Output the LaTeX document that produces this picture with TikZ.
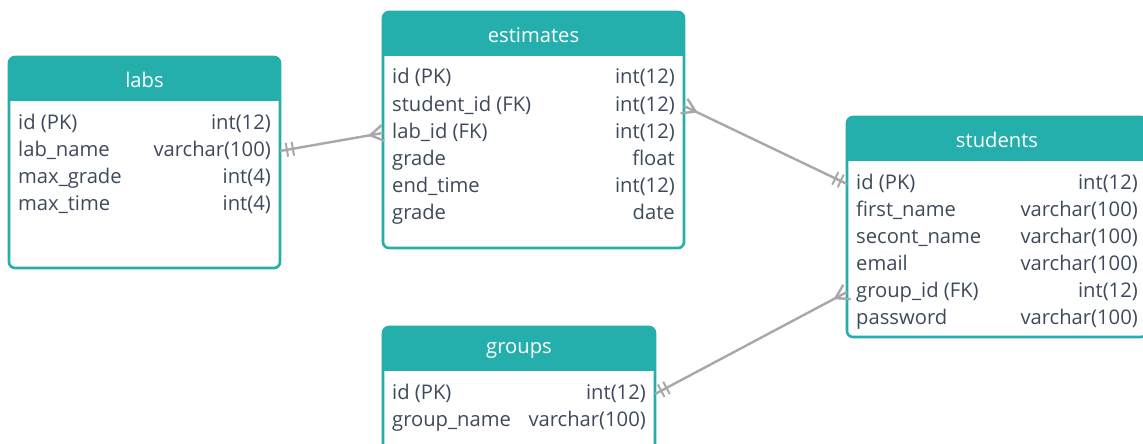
\documentclass[tikz,border=0pt]{standalone}
\usepackage{fontspec}
\setmainfont{Open Sans}
\usetikzlibrary{calc}

\definecolor{erteal}{HTML}{25AFAC}
\definecolor{erink}{HTML}{3E4A5B}
\definecolor{ergray}{HTML}{A8A8A8}

\tikzset{
  frame/.style={fill=white, draw=none, inner sep=0pt, outer sep=0pt, anchor=north west},
  rim/.style={draw=erteal, line width=2.6pt, rounded corners=6pt},
  title/.style={text=white, inner sep=0pt, font=\fontsize{20.2}{24}\selectfont},
  field/.style={text=erink, inner sep=0pt, anchor=west, text height=14pt, text depth=4pt,
                font=\fontsize{20.2}{24}\selectfont},
  ftype/.style={field, anchor=east},
  link/.style={draw=ergray, line width=2.4pt},
  tick/.style={draw=ergray, line width=2pt},
}

% one entity table: name, x, y, width, height, title, rows (field/type)
\newcommand\ertable[7]{%
  \node[frame, minimum width=#4pt, minimum height=#5pt] (#1) at (#2,#3) {};
  \begin{scope}
    \clip[rounded corners=6pt] (#1.north west) rectangle (#1.south east);
    \fill[erteal] (#1.north west) rectangle ($(#1.north east)+(0,44)$);
  \end{scope}
  \draw[rim] (#1.north west) rectangle (#1.south east);
  \node[title] (#1-title) at ($(#1.north)+(0,23)$) {#6};
  \foreach \f/\t [count=\i] in {#7} {
    \pgfmathsetmacro\rowy{67+27*(\i-1)}
    \node[field] (#1-f\i) at ($(#1.north west)+(9,\rowy)$) {\f};
    \node[ftype] (#1-t\i) at ($(#1.north east)+(-9,\rowy)$) {\t};
  }
}

% crow's foot ("many") at #1, line coming from #2
\newcommand\erMany[2]{%
  \coordinate (cfapex) at ($(#1)!13pt!(#2)$);
  \draw[link] ($(#1)!8pt!90:(#2)$) -- (cfapex) -- ($(#1)!8pt!-90:(#2)$);
}
% double bar ("one and only one") at #1, line going to #2
\newcommand\erOne[2]{%
  \foreach \d in {7,13} {
    \coordinate (barc) at ($(#1)!\d pt!(#2)$);
    \draw[tick] ($(barc)!7pt!90:(#2)$) -- ($(barc)!7pt!-90:(#2)$);
  }
}

\begin{document}
\begin{tikzpicture}[x=1pt, y=-1pt]
\useasboundingbox (0,0) rectangle (1143,444);

\ertable{labs}{9}{57}{271}{211}{labs}{%
  id (PK)/int(12), lab\_name/varchar(100), max\_grade/int(4), max\_time/int(4)}

\ertable{estimates}{383}{12}{301}{236}{estimates}{%
  id (PK)/int(12), student\_id (FK)/int(12), lab\_id (FK)/int(12),
  grade/float, end\_time/int(12), grade/date}

\ertable{students}{847}{117}{300}{220}{students}{%
  id (PK)/int(12), first\_name/varchar(100), secont\_name/varchar(100),
  email/varchar(100), group\_id (FK)/int(12), password/varchar(100)}

\ertable{groups}{383}{327}{272}{130}{groups}{%
  id (PK)/int(12), group\_name/varchar(100)}

% relationships
\coordinate (labsport) at (labs-f2 -| labs.east);
\coordinate (estlabport) at (estimates-f3 -| estimates.west);
\draw[link] (labsport) -- (estlabport);
\erOne{labsport}{estlabport}
\erMany{estlabport}{labsport}

\coordinate (eststuport) at (estimates-f2 -| estimates.east);
\coordinate (stuport) at (students-f1 -| students.west);
\draw[link] (eststuport) -- (stuport);
\erMany{eststuport}{stuport}
\erOne{stuport}{eststuport}

\coordinate (grpport) at (groups-f1 -| groups.east);
\coordinate (stugrpport) at (students-f5 -| students.west);
\draw[link] (grpport) -- (stugrpport);
\erOne{grpport}{stugrpport}
\erMany{stugrpport}{grpport}
\end{tikzpicture}
\end{document}
